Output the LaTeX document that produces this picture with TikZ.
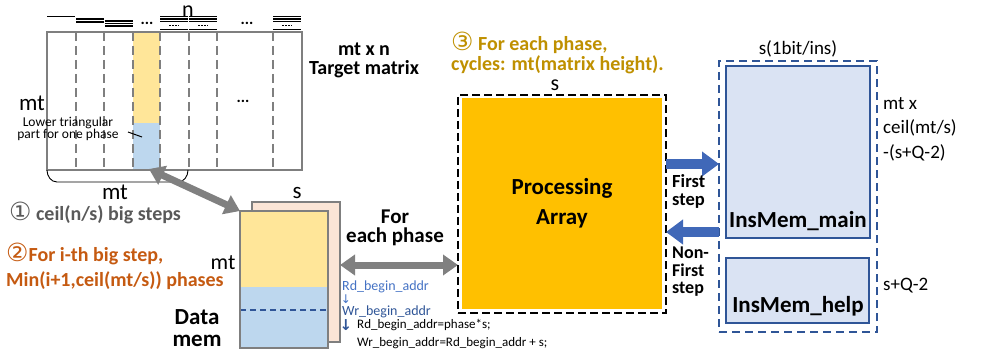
\documentclass[tikz,border=0pt]{standalone}
\usepackage{fontspec}
\setmainfont{Carlito}
\newfontfamily\dejavu{DejaVu Sans}
\usetikzlibrary{arrows.meta,calc}
\definecolor{lyellow}{HTML}{FFE699}
\definecolor{lblue}{HTML}{BDD7EE}
\definecolor{peach}{HTML}{FBE5D6}
\definecolor{matgray}{HTML}{7F7F7F}
\definecolor{arrgray}{HTML}{808080}
\definecolor{paorange}{HTML}{FFC000}
\definecolor{arrblue}{HTML}{4068B8}
\definecolor{insfill}{HTML}{DAE3F3}
\definecolor{insdraw}{HTML}{2F5597}
\definecolor{txtgray}{HTML}{595959}
\definecolor{txtorange}{HTML}{C55A11}
\definecolor{txtgold}{HTML}{BF9000}
\definecolor{rdblue}{HTML}{4472C4}
\newcommand{\cnum}[1]{{\dejavu\mdseries\fontsize{25pt}{25pt}\selectfont #1}}
\begin{document}
\begin{tikzpicture}[x=1pt,y=-1pt,
  lbl/.style={inner sep=0pt, font=\fontsize{#1pt}{#1pt}\selectfont},
  blbl/.style={inner sep=0pt, font=\fontsize{#1pt}{#1pt}\selectfont\bfseries},
  stack/.style 2 args={inner sep=0pt, align=left, font=\fontsize{#1pt}{#2pt}\selectfont\bfseries},
  box/.style={draw, inner sep=0pt, outer sep=0pt, anchor=north west},
  grayarrow/.style={draw=arrgray, line width=7pt, {Triangle[length=15pt,width=20pt]}-{Triangle[length=15pt,width=20pt]}},
  bluearrow/.style={draw=arrblue, line width=10pt, -{Triangle[length=17pt,width=24pt]}},
  sym/.style={line width=1.6pt},
  coldash/.style={matgray, line width=1.5pt, dash pattern=on 9pt off 5pt},
]
\useasboundingbox (0,0) rectangle (993,358);

% ---------- target matrix ----------
\fill[lyellow] (133,33) rectangle (160,123);
\fill[lblue] (133,123) rectangle (160,170);
\foreach \x in {76,104,133,160,189,217,273} \draw[coldash] (\x,32) -- (\x,170);
\node[box, draw=matgray, line width=1.3pt, minimum width=255pt, minimum height=138pt] (mat) at (47,32) {};

% column symbols
\draw[sym] (47,16.5) -- (75,16.5);
\draw[sym] (76,19) -- (104,19) (76,22) -- (104,22);
\draw[sym] (105,21) -- (133,21) (105,23.5) -- (133,23.5) (105,26) -- (133,26);
\foreach \a in {160,189,273} {
  \draw[sym] (\a,16.5) -- ++(28,0) (\a,19) -- ++(28,0) (\a,21.5) -- ++(28,0) (\a,29.5) -- ++(28,0);
  \draw[line width=1.6pt, dash pattern=on 1.5pt off 1.5pt] (\a+9,25.5) -- ++(10,0);
}
\node[blbl=16] (dotsA) at (147,23) {...};
\node[blbl=16] (dotsB) at (247,23) {...};
\node[blbl=16] (dotsC) at (243,101) {...};
\node[lbl=22] (nlab) at (188,11) {n};

\node[stack={20}{19}, align=center] (tgt) at (364,60) {mt x n\\Target matrix};
\node[lbl=23] (mtL) at (32,103) {mt};
\node[lbl=13.5, align=center, font=\fontsize{13.5pt}{12.5pt}\selectfont] (lt) at (68,129) {Lower triangular\\part for one phase};
\coordinate (ltA) at (128,132);
\coordinate (ltB) at (142,137);
\draw[line width=1pt] (ltA) -- (ltB);

% brace under matrix
\coordinate (brL) at (47,170);
\coordinate (brR) at (188,170);
\draw[line width=0.9pt] (brL) to[out=-90,in=180] (57,182) -- (178,182) to[out=0,in=-90] (brR);
\node[lbl=23] (mtB) at (115,192) {mt};

% ---------- data mem ----------
\node[box, draw=matgray, fill=peach, line width=1.5pt, minimum width=88pt, minimum height=140pt] (dmback) at (252,202) {};
\fill[lyellow] (240,211) rectangle (328,287);
\fill[lblue] (240,287) rectangle (328,348);
\draw[insdraw, line width=1.3pt, dash pattern=on 6pt off 4pt] (240,310) -- (328,310);
\node[box, draw=matgray, line width=1.5pt, minimum width=88pt, minimum height=137pt] (dmfront) at (240,211) {};
\node[lbl=23] (sDM) at (297,193) {s};
\node[lbl=22] (mtDM) at (223,263) {mt};
\node[stack={23}{22}, align=center] (data) at (197,328) {Data\\mem};

% gray arrows
\coordinate (colbot) at (149,169);
\draw[grayarrow] (colbot) -- (dmfront.north west);
\coordinate (hrow) at (0,265);
\draw[grayarrow] (dmback.east |- hrow) -- (458,265);

\node[blbl=20, anchor=west, text=txtgray] (st1) at (9,213) {\cnum{①} ceil(n/s) big steps};
\node[stack={20}{25}, anchor=north west, text=txtorange] (st2) at (6,243) {\cnum{②}For i-th big step,\\Min(i+1,ceil(mt/s)) phases};

\node[stack={21}{19.5}, align=center] (fe) at (395,228) {For\\each phase};

\node[lbl=14, anchor=west, text=rdblue] (rd) at (342,287) {Rd\_begin\_addr};
\node[lbl=12, text=rdblue] (ar1) at (346,299) {\dejavu ↓};
\node[lbl=14, anchor=west, text=insdraw] (wr) at (342,312) {Wr\_begin\_addr};
\node[lbl=15, text=insdraw] (ar2) at (346,325) {\dejavu\bfseries ↓};
\node[lbl=13, anchor=west, align=left, font=\fontsize{13pt}{18pt}\selectfont] (eq) at (357,334) {Rd\_begin\_addr=phase*s;\\Wr\_begin\_addr=Rd\_begin\_addr + s;};

% ---------- processing array ----------
\fill[paorange] (462,98) rectangle (662,309);
\node[box, line width=1.6pt, dash pattern=on 8pt off 4pt, minimum width=208pt, minimum height=218pt] (pa) at (458,95) {};
\node[stack={23}{30}, align=center] (proc) at (562,203) {Processing\\Array};
\node[lbl=22] (sPA) at (555,85) {s};
\node[stack={20}{20}, anchor=north west, text=txtgold] (st3) at (451,32) {\cnum{③} For each phase,\\cycles: mt(matrix height).};

% ---------- instruction memory ----------
\node[box, draw=insdraw, line width=1.6pt, dash pattern=on 8pt off 5pt, minimum width=158pt, minimum height=271pt] (insout) at (719,61) {};
\node[box, draw=insdraw, fill=insfill, line width=1.6pt, minimum width=144pt, minimum height=172pt] (insmain) at (726,66) {};
\node[box, draw=insdraw, fill=insfill, line width=1.6pt, minimum width=143pt, minimum height=65pt] (inshelp) at (726,258) {};
\node[blbl=23] (imm) at (798,221) {InsMem\_main};
\node[blbl=23] (imh) at (798,306) {InsMem\_help};
\node[lbl=19] (sbit) at (798,49) {s(1bit/ins)};
\node[anchor=west, inner sep=0pt, align=left, font=\fontsize{19pt}{24.5pt}\selectfont] (sz) at (883,129) {mt x\\ceil(mt/s)\\-(s+Q-2)};
\node[lbl=19, anchor=west] (sz4) at (883,286) {s+Q-2};

% blue arrows
\coordinate (r1) at (0,164);
\coordinate (r2) at (0,232);
\draw[bluearrow] (pa.east |- r1) -- (insout.west |- r1);
\draw[bluearrow] (insout.west |- r2) -- (pa.east |- r2);
\node[stack={18.5}{18}, anchor=west] (fs) at (672,191) {First\\step};
\node[stack={18}{17.5}, anchor=west] (nf) at (672,272) {Non-\\First\\step};
\end{tikzpicture}
\end{document}
